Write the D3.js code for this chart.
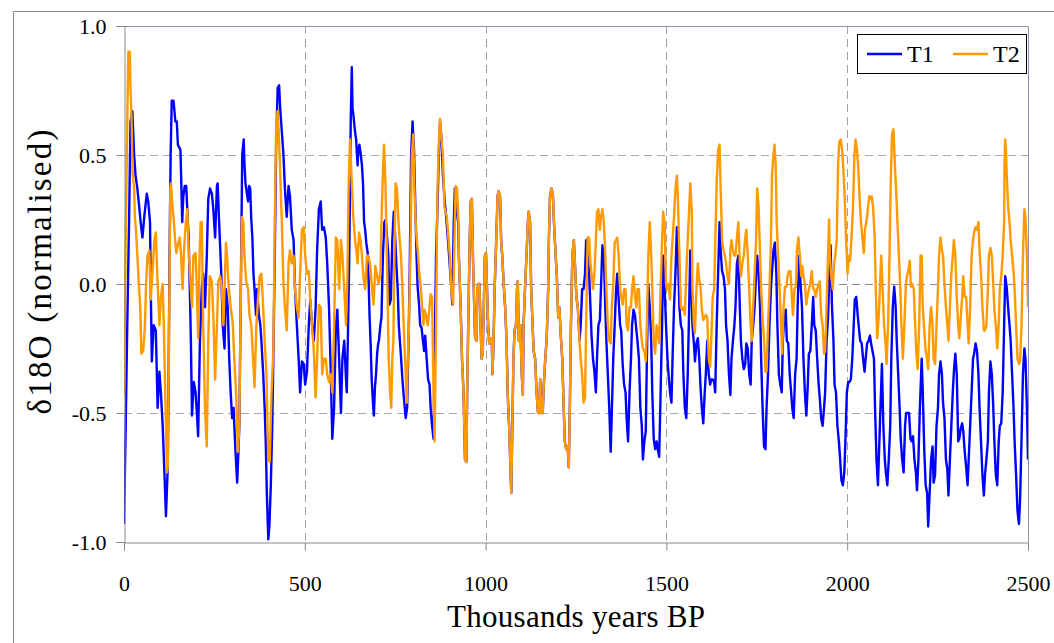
<!DOCTYPE html>
<html>
<head>
<meta charset="utf-8">
<script src="https://cdn.jsdelivr.net/npm/d3@7"></script>
<style>
  body { margin: 0; background: #fff; }
  svg text { font-family: "Liberation Serif", "DejaVu Serif", serif; fill: #000; }
</style>
</head>
<body>
<svg id="chart" width="1054" height="643"></svg>
<script>
// axis ticks
const xTicks = [0, 500, 1000, 1500, 2000, 2500];
const yTicks = [-1, -0.5, 0, 0.5, 1];
const seriesNames = ["T1", "T2"];

// T1, [thousand years BP, d18O]
const T1 = [
  [0,-0.93],[4,-0.61],[9,-0.16],[14,0.24],[18,0.63],[23,0.67],[28,0.50],[32,0.42],[37,0.37],[42,0.30],[46,0.24],[51,0.18],[56,0.26],[63,0.35],[67,0.32],[72,0.24],[74,-0.02],[77,-0.30],[82,-0.16],[88,-0.18],[93,-0.48],[98,-0.34],[102,-0.42],[107,-0.55],[112,-0.74],[116,-0.90],[121,-0.71],[123,-0.42],[126,0.11],[129,0.50],[132,0.71],[137,0.71],[142,0.63],[146,0.63],[149,0.54],[156,0.52],[158,0.42],[161,0.24],[164,0.34],[168,0.38],[172,0.38],[175,0.29],[179,0.17],[182,-0.02],[185,-0.22],[188,-0.51],[193,-0.38],[198,-0.42],[202,-0.51],[205,-0.59],[210,-0.22],[215,-0.02],[219,0.04],[224,-0.09],[229,0.11],[233,0.33],[238,0.37],[243,0.35],[247,0.29],[252,0.18],[257,0.38],[259,0.39],[263,0.24],[269,0.04],[273,-0.16],[278,-0.25],[282,-0.02],[287,-0.09],[291,-0.29],[295,-0.42],[299,-0.52],[303,-0.48],[308,-0.64],[313,-0.77],
  [315,-0.70],[319,-0.55],[324,0.11],[327,0.50],[331,0.56],[333,0.47],[336,0.39],[340,0.35],[343,0.32],[346,0.38],[349,0.37],[352,0.25],[355,0.18],[358,0.04],[361,-0.02],[365,-0.12],[368,-0.02],[373,-0.12],[377,-0.16],[380,-0.22],[385,-0.35],[389,-0.48],[392,-0.61],[395,-0.81],[399,-0.99],[402,-0.94],[406,-0.78],[410,-0.55],[413,-0.29],[417,0.11],[421,0.56],[425,0.76],[429,0.77],[432,0.68],[436,0.60],[441,0.50],[445,0.37],[450,0.26],[455,0.38],[459,0.34],[464,0.21],[469,0.17],[473,-0.02],[478,-0.16],[483,-0.29],[487,-0.42],[492,-0.30],[497,-0.31],[501,-0.39],[506,-0.34],[511,-0.16],[515,-0.06],[520,-0.16],[525,-0.22],[530,-0.09],[534,0.13],[539,0.29],[544,0.32],[548,0.21],[553,0.22],[558,0.18],[562,0.08],[567,-0.09],[572,-0.35],[576,-0.60],[581,-0.48],[586,-0.16],[590,-0.10],[595,-0.29],[600,-0.50],[604,-0.29],[609,-0.22],[614,-0.37],[616,-0.42],[619,-0.22],[623,0.11],[627,0.63],[630,0.84],
  [632,0.68],[634,0.66],[639,0.59],[642,0.56],[646,0.46],[648,0.52],[651,0.54],[655,0.50],[658,0.46],[661,0.39],[664,0.24],[667,0.21],[670,0.16],[674,0.12],[676,0.04],[679,-0.12],[682,-0.23],[685,-0.37],[689,-0.47],[691,-0.51],[694,-0.40],[697,-0.35],[700,-0.27],[703,-0.23],[705,-0.22],[709,-0.16],[712,-0.13],[716,0.11],[720,0.24],[724,0.25],[728,0.17],[731,0.11],[734,-0.08],[738,-0.06],[742,0.17],[746,0.28],[749,0.21],[753,0.08],[757,-0.02],[760,-0.16],[765,-0.26],[770,-0.37],[774,-0.44],[779,-0.52],[783,-0.48],[787,-0.22],[790,0.04],[794,0.50],[798,0.63],[802,0.52],[805,0.34],[809,0.11],[812,-0.01],[816,-0.08],[819,-0.16],[823,-0.17],[826,-0.21],[830,-0.26],[833,-0.20],[837,-0.29],[841,-0.37],[845,-0.39],[848,-0.48],[852,-0.55],[856,-0.60],[859,-0.29],[863,0.11],[867,0.30],[871,0.52],[874,0.63],[878,0.56],[882,0.42],[887,0.32],[891,0.26],[896,0.17],[901,0.07],[905,-0.01],[908,-0.08],[912,0.24],[915,0.37],[919,0.29],[924,0.24],
  [926,0.11],[931,-0.09],[935,-0.30],[939,-0.42],[943,-0.68],[947,-0.69],[949,-0.42],[952,-0.16],[956,0.17],[959,0.32],[962,0.33],[965,0.11],[968,-0.06],[971,-0.21],[975,-0.22],[977,-0.02],[980,0.00],[983,0.00],[986,-0.16],[989,-0.29],[992,-0.27],[995,-0.09],[998,0.11],[1001,0.12],[1004,-0.02],[1007,-0.16],[1010,-0.23],[1014,-0.22],[1017,-0.21],[1019,-0.35],[1022,-0.22],[1025,-0.02],[1028,0.11],[1031,0.24],[1033,0.34],[1036,0.36],[1040,0.34],[1043,0.17],[1046,0.11],[1050,0.00],[1054,-0.09],[1058,-0.22],[1061,-0.42],[1065,-0.55],[1068,-0.68],[1071,-0.81],[1074,-0.55],[1077,-0.29],[1080,-0.18],[1084,-0.16],[1087,-0.02],[1089,0.01],[1092,-0.22],[1096,-0.16],[1100,-0.35],[1103,-0.43],[1105,-0.16],[1109,-0.02],[1113,0.11],[1117,0.24],[1119,0.28],[1123,0.24],[1126,-0.02],[1130,-0.16],[1133,-0.26],[1137,-0.29],[1141,-0.42],[1145,-0.50],[1148,-0.50],[1151,-0.37],[1154,-0.50],[1158,-0.50],[1161,-0.39],[1165,-0.29],[1169,-0.21],[1173,-0.02],[1175,0.17],[1178,0.34],[1182,0.37],[1186,0.35],[1189,0.24],[1193,0.13],[1197,0.03],[1201,-0.13],[1204,-0.09],[1208,-0.20],[1212,-0.29],[1216,-0.48],[1219,-0.61],[1223,-0.64],[1227,-0.63],[1230,-0.71],[1233,-0.48],[1236,-0.16],[1240,0.11],[1244,0.17],[1247,0.08],[1251,-0.05],[1255,-0.09],
  [1260,-0.22],[1263,-0.16],[1267,-0.02],[1271,-0.02],[1275,0.04],[1278,0.17],[1282,0.11],[1286,0.05],[1290,-0.09],[1293,-0.20],[1297,-0.29],[1301,-0.34],[1305,-0.42],[1308,-0.29],[1312,-0.16],[1316,-0.14],[1319,-0.02],[1323,0.15],[1327,0.11],[1331,-0.09],[1334,-0.22],[1338,-0.35],[1342,-0.48],[1346,-0.65],[1349,-0.50],[1353,-0.29],[1357,-0.16],[1361,-0.02],[1364,0.04],[1368,-0.06],[1372,-0.16],[1375,-0.18],[1379,-0.31],[1383,-0.39],[1387,-0.42],[1390,-0.52],[1394,-0.61],[1398,-0.42],[1402,-0.29],[1405,-0.16],[1409,-0.10],[1413,-0.12],[1417,-0.18],[1420,-0.22],[1424,-0.29],[1428,-0.48],[1432,-0.55],[1435,-0.68],[1439,-0.61],[1443,-0.57],[1446,-0.29],[1450,0.00],[1454,-0.09],[1458,-0.22],[1461,-0.42],[1465,-0.60],[1469,-0.64],[1473,-0.61],[1476,-0.64],[1480,-0.67],[1484,-0.42],[1488,-0.16],[1491,0.11],[1495,-0.02],[1499,-0.16],[1503,-0.29],[1506,-0.35],[1510,-0.42],[1514,-0.46],[1517,-0.29],[1521,-0.09],[1525,0.04],[1529,0.22],[1532,0.11],[1536,-0.09],[1540,-0.16],[1544,-0.18],[1547,-0.35],[1551,-0.48],[1555,-0.52],[1559,-0.35],[1562,-0.16],[1566,0.13],
  [1568,0.04],[1572,-0.16],[1576,-0.23],[1579,-0.30],[1583,-0.23],[1587,-0.21],[1591,-0.29],[1594,-0.39],[1598,-0.48],[1602,-0.54],[1606,-0.42],[1609,-0.35],[1613,-0.22],[1617,-0.35],[1621,-0.39],[1624,-0.37],[1628,-0.37],[1632,-0.38],[1635,-0.42],[1639,-0.16],[1643,0.04],[1647,0.24],[1650,0.13],[1654,0.05],[1658,0.03],[1662,-0.02],[1665,-0.16],[1669,-0.22],[1673,-0.35],[1677,-0.43],[1680,-0.29],[1684,-0.22],[1688,-0.16],[1691,-0.09],[1695,0.08],[1699,0.11],[1703,-0.09],[1706,-0.22],[1710,-0.29],[1714,-0.33],[1718,-0.31],[1721,-0.23],[1725,-0.25],[1729,-0.35],[1733,-0.39],[1736,-0.22],[1740,-0.16],[1744,-0.09],[1748,0.04],[1751,0.11],[1755,0.04],[1759,-0.09],[1762,-0.29],[1766,-0.48],[1770,-0.63],[1774,-0.64],[1777,-0.48],[1781,-0.35],[1785,-0.16],[1789,-0.02],[1792,0.05],[1796,0.13],[1800,0.16],[1804,0.04],[1807,-0.16],[1811,-0.35],[1815,-0.39],[1819,-0.42],[1822,-0.22],[1826,-0.13],[1830,-0.10],[1833,-0.22],[1837,-0.23],[1841,-0.35],[1845,-0.42],[1848,-0.48],[1852,-0.52],[1856,-0.35],[1860,-0.29],[1863,-0.09],[1867,0.11],[1871,0.00],[1875,-0.09],
  [1879,-0.29],[1883,-0.42],[1887,-0.51],[1891,-0.39],[1894,-0.27],[1898,-0.26],[1902,-0.16],[1906,-0.05],[1909,-0.16],[1913,-0.18],[1917,-0.29],[1921,-0.39],[1924,-0.44],[1928,-0.52],[1932,-0.55],[1936,-0.48],[1939,-0.42],[1943,-0.22],[1947,-0.13],[1950,0.00],[1954,0.15],[1958,-0.09],[1962,-0.22],[1965,-0.39],[1969,-0.42],[1973,-0.55],[1977,-0.61],[1980,-0.67],[1984,-0.76],[1988,-0.78],[1992,-0.73],[1995,-0.61],[1999,-0.42],[2003,-0.38],[2006,-0.38],[2010,-0.37],[2014,-0.29],[2018,-0.16],[2021,-0.06],[2025,-0.05],[2029,-0.12],[2033,-0.18],[2036,-0.22],[2040,-0.23],[2044,-0.29],[2048,-0.34],[2051,-0.29],[2055,-0.23],[2059,-0.22],[2063,-0.20],[2066,-0.23],[2070,-0.26],[2074,-0.29],[2077,-0.48],[2081,-0.68],[2085,-0.78],[2089,-0.61],[2092,-0.48],[2096,-0.31],[2100,-0.55],[2104,-0.68],[2107,-0.73],[2111,-0.78],[2115,-0.68],[2119,-0.55],[2122,-0.29],[2126,-0.09],[2130,-0.01],[2134,-0.09],[2137,-0.22],[2141,-0.35],[2145,-0.48],[2148,-0.60],[2152,-0.68],[2156,-0.73],[2160,-0.55],[2163,-0.50],[2167,-0.50],[2171,-0.50],[2175,-0.60],[2178,-0.61],[2182,-0.59],[2186,-0.68],[2190,-0.73],[2193,-0.80],[2197,-0.68],[2201,-0.48],
  [2206,-0.29],[2209,-0.42],[2213,-0.64],[2217,-0.78],[2221,-0.81],[2224,-0.94],[2228,-0.81],[2232,-0.68],[2236,-0.63],[2239,-0.77],[2243,-0.74],[2247,-0.55],[2251,-0.48],[2254,-0.35],[2258,-0.30],[2262,-0.35],[2265,-0.46],[2269,-0.52],[2273,-0.68],[2277,-0.72],[2280,-0.82],[2284,-0.68],[2288,-0.55],[2292,-0.42],[2295,-0.34],[2299,-0.27],[2303,-0.35],[2307,-0.61],[2310,-0.60],[2314,-0.56],[2318,-0.54],[2321,-0.57],[2325,-0.65],[2329,-0.71],[2333,-0.78],[2336,-0.68],[2340,-0.55],[2344,-0.42],[2348,-0.29],[2351,-0.27],[2355,-0.23],[2359,-0.26],[2363,-0.35],[2366,-0.48],[2370,-0.61],[2374,-0.74],[2378,-0.82],[2381,-0.74],[2385,-0.68],[2389,-0.61],[2392,-0.42],[2396,-0.30],[2400,-0.35],[2404,-0.48],[2407,-0.61],[2411,-0.74],[2415,-0.78],[2419,-0.61],[2422,-0.55],[2426,-0.54],[2430,-0.42],[2434,-0.16],[2437,0.03],[2441,-0.01],[2445,-0.09],[2449,-0.16],[2452,-0.22],[2456,-0.35],[2460,-0.48],[2463,-0.61],[2467,-0.74],[2471,-0.88],[2475,-0.93],[2478,-0.84],[2482,-0.61],[2486,-0.35],[2490,-0.25],[2493,-0.29],[2497,-0.48],[2500,-0.68]
];

// T2, [thousand years BP, d18O]
const T2 = [
  [0,-0.43],[4,0.11],[9,0.63],[12,0.90],[16,0.90],[18,0.76],[21,0.63],[24,0.43],[28,0.37],[30,0.26],[33,0.21],[37,0.11],[41,0.00],[45,-0.09],[48,-0.27],[53,-0.26],[58,-0.16],[61,0.00],[65,0.11],[70,0.13],[74,-0.06],[79,0.05],[84,0.17],[88,0.20],[93,0.00],[98,-0.16],[102,-0.05],[107,0.00],[110,-0.16],[114,-0.42],[119,-0.73],[121,-0.71],[124,-0.29],[128,0.37],[130,0.39],[133,0.32],[138,0.24],[142,0.16],[145,0.12],[149,0.15],[154,0.18],[158,0.11],[162,-0.02],[166,0.13],[171,0.24],[175,0.29],[179,0.13],[184,0.00],[188,-0.09],[192,0.11],[198,0.12],[201,0.00],[205,-0.21],[209,0.11],[212,0.24],[215,0.24],[219,-0.16],[224,-0.48],[229,-0.63],[233,-0.23],[237,0.03],[243,0.01],[248,-0.16],[252,-0.37],[257,-0.16],[261,0.01],[266,0.03],[271,-0.02],[275,-0.16],[282,0.16],[285,0.11],[289,0.00],[295,-0.09],[299,-0.13],
  [301,-0.16],[305,-0.29],[310,-0.42],[315,-0.65],[319,-0.55],[322,-0.16],[326,0.26],[330,0.24],[333,0.11],[338,0.01],[343,-0.02],[347,-0.12],[352,-0.16],[357,-0.29],[361,-0.40],[366,-0.16],[371,-0.05],[375,0.03],[380,0.04],[385,-0.09],[389,-0.22],[394,-0.35],[399,-0.68],[403,-0.69],[408,-0.42],[413,-0.26],[417,0.24],[421,0.62],[425,0.67],[429,0.55],[432,0.43],[436,0.26],[441,0.00],[445,-0.09],[450,-0.18],[455,0.08],[459,0.13],[464,0.08],[469,0.11],[473,-0.02],[478,-0.09],[483,-0.13],[487,0.04],[492,0.21],[497,0.22],[501,0.11],[506,0.04],[511,0.05],[515,-0.06],[520,-0.16],[525,-0.26],[530,-0.44],[534,-0.29],[539,-0.08],[544,-0.09],[548,-0.35],[553,-0.29],[558,-0.29],[562,-0.35],[567,-0.38],[572,-0.35],[576,-0.42],[581,-0.16],[586,0.18],[590,0.17],[595,-0.02],[600,0.17],[604,0.11],[609,-0.02],[614,-0.16],[618,0.04],[621,0.37],
  [625,0.56],[630,0.39],[634,0.26],[639,0.17],[644,0.11],[646,0.08],[650,0.20],[654,0.17],[658,0.11],[662,0.03],[667,-0.02],[672,0.11],[676,0.11],[681,0.07],[686,-0.02],[690,-0.08],[695,0.07],[700,0.03],[704,0.00],[709,0.04],[712,0.24],[716,0.43],[719,0.54],[723,0.39],[727,0.11],[730,-0.12],[732,-0.29],[736,-0.42],[739,-0.48],[742,-0.29],[745,-0.22],[747,0.04],[751,0.39],[755,0.37],[759,0.24],[762,0.18],[766,0.11],[770,-0.02],[774,-0.18],[779,-0.35],[782,-0.46],[785,-0.29],[788,-0.16],[792,0.11],[796,0.50],[800,0.58],[802,0.43],[805,0.29],[809,0.18],[813,0.12],[816,0.05],[820,0.00],[824,-0.08],[828,-0.16],[831,-0.10],[835,-0.12],[840,-0.16],[845,-0.09],[848,-0.04],[852,-0.05],[856,-0.42],[859,-0.61],[863,-0.16],[867,0.37],[871,0.56],[874,0.64],[878,0.56],[882,0.50],[886,0.30],[889,0.28],[893,0.26],[897,0.18],[901,0.11],[905,-0.02],[910,-0.08],[914,0.17],[917,0.38],[921,0.37],[925,0.24],
  [926,0.11],[931,-0.09],[935,-0.30],[939,-0.42],[943,-0.68],[947,-0.69],[949,-0.42],[952,-0.16],[956,0.17],[959,0.32],[962,0.33],[965,0.11],[968,-0.06],[971,-0.21],[975,-0.22],[977,-0.02],[980,0.00],[983,0.00],[986,-0.16],[989,-0.29],[992,-0.27],[995,-0.09],[998,0.11],[1001,0.12],[1004,-0.02],[1007,-0.16],[1010,-0.23],[1014,-0.22],[1017,-0.21],[1019,-0.35],[1022,-0.22],[1025,-0.02],[1028,0.11],[1031,0.24],[1033,0.34],[1036,0.36],[1040,0.34],[1043,0.17],[1046,0.11],[1050,0.00],[1054,-0.09],[1058,-0.22],[1061,-0.42],[1065,-0.55],[1068,-0.68],[1071,-0.81],[1074,-0.55],[1077,-0.29],[1080,-0.18],[1084,-0.16],[1087,-0.02],[1089,0.01],[1092,-0.22],[1096,-0.16],[1100,-0.35],[1103,-0.43],[1105,-0.16],[1109,-0.02],[1113,0.11],[1117,0.24],[1119,0.28],[1123,0.24],[1126,-0.02],[1130,-0.16],[1133,-0.26],[1137,-0.29],[1141,-0.42],[1145,-0.50],[1148,-0.50],[1151,-0.37],[1154,-0.50],[1158,-0.50],[1161,-0.39],[1165,-0.29],[1169,-0.21],[1173,-0.02],[1175,0.17],[1178,0.34],[1182,0.37],[1186,0.35],[1189,0.24],[1193,0.13],[1197,0.03],[1201,-0.13],[1204,-0.09],[1208,-0.20],[1212,-0.29],[1216,-0.48],[1219,-0.61],[1223,-0.64],[1227,-0.63],[1230,-0.71],[1233,-0.48],[1236,-0.16],[1240,0.11],[1244,0.17],[1247,0.08],[1251,-0.05],[1255,-0.09],
  [1260,-0.23],[1263,-0.29],[1267,-0.35],[1271,-0.46],[1275,-0.44],[1278,-0.16],[1282,0.18],[1286,0.18],[1290,0.08],[1293,0.04],[1297,-0.02],[1301,0.04],[1305,0.17],[1308,0.28],[1312,0.29],[1316,0.21],[1319,0.26],[1323,0.29],[1327,0.24],[1331,0.11],[1334,-0.02],[1338,-0.16],[1342,-0.22],[1346,-0.23],[1349,-0.09],[1353,0.00],[1357,0.16],[1361,0.17],[1364,0.18],[1368,0.11],[1372,-0.02],[1375,-0.05],[1379,-0.08],[1383,-0.02],[1387,-0.02],[1390,-0.16],[1394,-0.18],[1398,-0.09],[1402,-0.09],[1405,-0.02],[1409,0.03],[1413,-0.05],[1417,-0.09],[1420,-0.02],[1424,-0.02],[1428,-0.16],[1432,-0.22],[1435,-0.25],[1439,-0.26],[1443,-0.30],[1446,-0.16],[1450,0.11],[1454,0.24],[1458,0.11],[1461,-0.02],[1465,-0.22],[1469,-0.27],[1473,-0.16],[1476,-0.18],[1480,-0.23],[1484,-0.02],[1488,0.17],[1491,0.28],[1495,0.24],[1499,0.00],[1503,-0.02],[1506,0.00],[1510,-0.06],[1514,0.11],[1517,0.17],[1521,0.26],[1525,0.37],[1529,0.42],[1532,0.32],[1536,0.11],[1540,-0.09],[1544,-0.10],[1547,-0.09],[1551,-0.12],[1555,0.04],[1559,0.17],[1562,0.26],[1566,0.39],[1570,0.29],
  [1572,-0.02],[1576,-0.16],[1579,-0.19],[1583,-0.02],[1587,0.08],[1591,0.01],[1594,0.00],[1598,-0.10],[1602,-0.14],[1606,-0.13],[1609,-0.12],[1613,-0.13],[1617,-0.29],[1621,-0.32],[1624,-0.22],[1628,-0.05],[1632,-0.02],[1635,0.15],[1639,0.39],[1643,0.52],[1647,0.54],[1650,0.37],[1654,0.17],[1658,0.13],[1662,0.11],[1665,0.08],[1669,0.03],[1673,0.00],[1677,0.13],[1680,0.17],[1684,0.13],[1688,0.11],[1691,0.11],[1695,0.18],[1699,0.24],[1703,0.08],[1706,0.03],[1710,0.08],[1714,0.11],[1718,0.18],[1721,0.21],[1725,0.11],[1729,-0.02],[1733,-0.16],[1736,-0.22],[1740,-0.09],[1744,0.04],[1748,0.17],[1751,0.37],[1755,0.30],[1759,0.11],[1762,-0.02],[1766,-0.13],[1770,-0.22],[1774,-0.34],[1777,-0.34],[1781,-0.16],[1785,-0.02],[1789,0.16],[1792,0.42],[1796,0.50],[1799,0.54],[1802,0.47],[1805,0.24],[1809,0.11],[1813,-0.02],[1817,-0.16],[1820,-0.27],[1824,-0.09],[1828,-0.01],[1832,-0.01],[1835,0.03],[1839,0.05],[1843,0.05],[1847,-0.05],[1850,-0.12],[1854,-0.02],[1858,-0.01],[1861,0.13],[1865,0.18],[1869,0.11],[1873,0.03],
  [1876,0.07],[1879,0.03],[1883,0.00],[1887,-0.08],[1891,-0.04],[1894,-0.02],[1898,0.00],[1902,0.05],[1906,-0.02],[1909,-0.02],[1913,-0.05],[1917,-0.02],[1921,0.00],[1924,0.01],[1928,-0.12],[1932,-0.16],[1936,-0.27],[1939,-0.26],[1943,-0.09],[1947,0.11],[1950,0.25],[1952,0.11],[1956,0.03],[1960,-0.02],[1964,0.08],[1967,0.11],[1971,0.17],[1975,0.47],[1978,0.55],[1982,0.56],[1986,0.52],[1990,0.43],[1993,0.34],[1997,0.17],[2001,0.04],[2005,0.11],[2008,0.09],[2012,0.18],[2016,0.30],[2020,0.50],[2023,0.56],[2027,0.52],[2031,0.44],[2035,0.31],[2038,0.24],[2042,0.18],[2046,0.12],[2049,0.21],[2053,0.24],[2057,0.29],[2061,0.34],[2064,0.33],[2068,0.34],[2072,0.29],[2076,0.18],[2079,-0.02],[2083,-0.21],[2087,-0.13],[2091,0.00],[2094,0.11],[2098,-0.02],[2102,-0.16],[2106,-0.23],[2109,-0.31],[2113,-0.16],[2117,0.11],[2120,0.37],[2124,0.58],[2128,0.60],[2132,0.46],[2135,0.37],[2139,0.24],[2143,0.11],[2147,-0.02],[2150,-0.16],[2154,-0.29],[2158,-0.16],[2162,-0.01],[2165,0.03],[2169,0.05],[2173,0.09],[2176,-0.01],[2180,0.00],[2184,-0.02],[2188,-0.16],[2191,-0.26],[2195,-0.33],[2199,-0.16],[2203,0.11],
  [2206,0.11],[2209,-0.09],[2213,-0.18],[2217,-0.26],[2221,-0.29],[2224,-0.33],[2228,-0.16],[2232,-0.09],[2236,-0.16],[2239,-0.29],[2243,-0.31],[2247,-0.16],[2251,-0.02],[2254,0.11],[2258,0.18],[2262,0.13],[2265,0.11],[2269,0.00],[2273,-0.09],[2277,-0.16],[2280,-0.22],[2284,-0.09],[2288,0.04],[2292,0.11],[2295,0.17],[2299,0.11],[2303,-0.05],[2307,-0.16],[2310,-0.21],[2314,-0.13],[2318,-0.05],[2321,0.03],[2325,-0.05],[2329,-0.05],[2333,-0.16],[2336,-0.23],[2340,-0.09],[2344,0.11],[2348,0.17],[2351,0.20],[2355,0.22],[2359,0.21],[2363,0.24],[2366,0.13],[2370,0.04],[2374,-0.09],[2378,-0.18],[2381,-0.18],[2385,-0.16],[2389,-0.02],[2392,0.11],[2396,0.14],[2400,0.11],[2404,0.00],[2407,-0.10],[2411,-0.16],[2415,-0.25],[2419,-0.16],[2422,-0.02],[2426,0.03],[2430,0.11],[2434,0.24],[2435,0.47],[2437,0.56],[2439,0.52],[2441,0.43],[2445,0.30],[2449,0.24],[2452,0.17],[2456,0.11],[2460,0.05],[2463,-0.02],[2467,-0.16],[2471,-0.29],[2475,-0.31],[2478,-0.30],[2482,-0.16],[2486,0.11],[2490,0.29],[2493,0.26],[2497,0.11],[2500,-0.09]
];

const colors = ["#0000ff", "#ff9a00"];

const svg = d3.select("#chart");
const plot = { left: 124, right: 1028, top: 26, bottom: 542 };

const x = d3.scaleLinear().domain([0, 2500]).range([plot.left, plot.right]);
const y = d3.scaleLinear().domain([-1, 1]).range([plot.bottom, plot.top]);

// outer chart frame (left + top edges visible)
svg.append("path")
  .attr("d", "M13.5,643 L13.5,11.5 L1054,11.5")
  .attr("fill", "none")
  .attr("stroke", "#8a8a8a")
  .attr("stroke-width", 1);

// grid lines
svg.append("g")
  .selectAll("line")
  .data([-0.5, 0, 0.5])
  .join("line")
  .attr("x1", plot.left).attr("x2", plot.right)
  .attr("y1", (d) => Math.round(y(d)) + 0.5).attr("y2", (d) => Math.round(y(d)) + 0.5)
  .attr("stroke", (d) => (d === 0 ? "#888" : "#a8a8a8"))
  .attr("stroke-dasharray", "8,5");

svg.append("g")
  .selectAll("line")
  .data([500, 1000, 1500, 2000])
  .join("line")
  .attr("x1", (d) => Math.round(x(d)) + 0.5).attr("x2", (d) => Math.round(x(d)) + 0.5)
  .attr("y1", plot.top).attr("y2", plot.bottom)
  .attr("stroke", "#a0a0a0")
  .attr("stroke-dasharray", "8,5");

// plot area top/right border
svg.append("path")
  .attr("d", `M${plot.left},${plot.top + 0.5} L${plot.right + 0.5},${plot.top + 0.5} L${plot.right + 0.5},${plot.bottom}`)
  .attr("fill", "none")
  .attr("stroke", "#9090aa")
  .attr("stroke-width", 1);

// Lines
svg.append("clipPath").attr("id", "clip")
  .append("rect")
  .attr("x", plot.left).attr("y", plot.top - 2)
  .attr("width", plot.right - plot.left).attr("height", plot.bottom - plot.top + 2);

const line = d3.line()
  .x((d) => x(d[0]))
  .y((d) => y(d[1]));

const graph = svg.append("g").attr("clip-path", "url(#clip)");
[T1, T2].forEach((d, idx) => {
  graph.append("path")
    .datum(d)
    .attr("fill", "none")
    .attr("stroke", colors[idx])
    .attr("stroke-width", 2.4)
    .attr("stroke-linejoin", "round")
    .attr("d", line);
});

// Axis
const xAxisG = svg.append("g")
  .attr("transform", `translate(0,${plot.bottom + 0.5})`)
  .call(d3.axisBottom(x).tickValues(xTicks).tickSize(8).tickPadding(25).tickFormat(d3.format("d")));
xAxisG.attr("font-family", null).attr("font-size", 22);
xAxisG.select(".domain").attr("stroke", "#888");
xAxisG.selectAll(".tick line").attr("stroke", "#888");
xAxisG.selectAll(".tick text").attr("fill", "#000");

const yAxisG = svg.append("g")
  .attr("transform", `translate(${plot.left + 0.5},0)`)
  .call(d3.axisLeft(y).tickValues(yTicks).tickSize(8).tickPadding(10).tickFormat((d) => d.toFixed(1)));
yAxisG.attr("font-family", null).attr("font-size", 22);
yAxisG.select(".domain").attr("stroke", "#888");
yAxisG.selectAll(".tick line").attr("stroke", "#888");
yAxisG.selectAll(".tick text").attr("fill", "#000");

// Axis titles
svg.append("text")
  .attr("x", 576)
  .attr("y", 627)
  .attr("text-anchor", "middle")
  .attr("font-size", 31)
  .attr("textLength", 258)
  .text("Thousands years BP");

svg.append("text")
  .attr("transform", `translate(51,272) rotate(-90)`)
  .attr("text-anchor", "middle")
  .attr("font-size", 33)
  .attr("textLength", 285)
  .text("δ18O (normalised)");

// Legend
const legend = svg.append("g");
legend.append("rect")
  .attr("x", 857.5).attr("y", 34.5)
  .attr("width", 169).attr("height", 39)
  .attr("fill", "#fff")
  .attr("stroke", "#000");
seriesNames.forEach((name, i) => {
  const lx = 867 + i * 86;
  legend.append("line")
    .attr("x1", lx).attr("x2", lx + 35)
    .attr("y1", 54).attr("y2", 54)
    .attr("stroke", colors[i])
    .attr("stroke-width", 2.4);
  legend.append("text")
    .attr("x", lx + 40).attr("y", 62)
    .attr("font-size", 24)
    .text(name);
});
</script>
</body>
</html>
